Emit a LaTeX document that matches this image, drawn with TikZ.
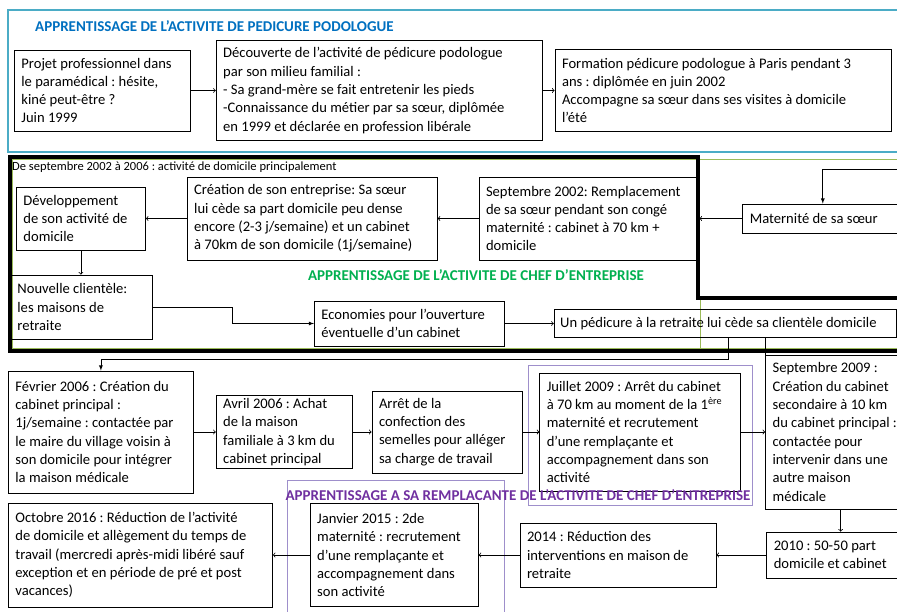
\documentclass[tikz,border=0pt]{standalone}
\usepackage{fontspec}
\setmainfont{Carlito}
\frenchspacing
\usetikzlibrary{arrows,positioning}
\definecolor{titleblue}{HTML}{0070C0}
\definecolor{titlegreen}{HTML}{00B050}
\definecolor{titlepurple}{HTML}{7030A0}
\definecolor{framepurple}{HTML}{9E8FCB}
\definecolor{frameblue}{HTML}{4BACC6}
\definecolor{frameolive}{HTML}{9BBB59}

\begin{document}
\begin{tikzpicture}[x=1pt,y=-1pt,node distance=25pt,
    box/.style={draw,line width=0.8pt,align=flush left,inner xsep=7pt,inner ysep=3pt,font=\fontsize{14.6}{18.3}\selectfont},
    phase/.style={inner sep=0pt,font=\fontsize{15}{18}\selectfont\bfseries},
    link/.style={line width=0.8pt}]
    \useasboundingbox (0,0) rectangle (897,612);
    \fill[white] (0,0) rectangle (897,612);
    \clip (0,0) rectangle (897,612);

    \draw[frameblue,line width=1.2pt] (8,10) rectangle (910,152);
    \draw[frameolive,line width=0.8pt] (12,159) rectangle (910,348);
    \draw[frameolive,line width=0.8pt] (700,300) -- (700,349);
    \draw[line width=3.5pt] (910,298) -- (698,298) -- (698,157) -- (10,157) -- (10,351) -- (910,351);
    \draw[framepurple,line width=1pt] (528,365) rectangle (752,505);
    \draw[framepurple,line width=1pt] (287,480) rectangle (504,640);

    \node[phase,text=titleblue,anchor=west] (titre-pedicure) at (35,26) {APPRENTISSAGE DE L’ACTIVITE DE PEDICURE PODOLOGUE};
    \node[box,anchor=west,text width=162pt,minimum height=81pt] (projet) at (14,90.5) {Projet professionnel dans\\le paramédical : hésite,\\kiné peut-être ?\\Juin 1999};
    \node[box,right=25pt of projet,text width=312pt,minimum height=100pt] (decouverte) {Découverte de l’activité de pédicure podologue\\par son milieu familial :\\- Sa grand-mère se fait entretenir les pieds\\-Connaissance du métier par sa sœur, diplômée\\en 1999 et déclarée en profession libérale};
    \node[box,right=12pt of decouverte,text width=322pt,minimum height=82pt] (formation) {Formation pédicure podologue à Paris pendant 3\\ans : diplômée en juin 2002\\Accompagne sa sœur dans ses visites à domicile\\l’été};

    \node[anchor=west,inner sep=0pt,font=\fontsize{12.5}{14}\selectfont] (periode) at (12,167) {De septembre 2002 à 2006 : activité de domicile principalement};
    \node[box,anchor=west,text width=115pt,minimum height=63pt] (developpement) at (16,218.5) {Développement\\de son activité de\\domicile};
    \node[box,right=41pt of developpement,text width=236pt,minimum height=83pt] (creation) {Création de son entreprise: Sa sœur\\lui cède sa part domicile peu dense\\encore (2-3 j/semaine) et un cabinet\\à 70km de son domicile (1j/semaine)};
    \node[box,right=41pt of creation,text width=206pt,minimum height=83pt] (remplacement) {Septembre 2002: Remplacement\\de sa sœur pendant son congé\\maternité : cabinet à 70 km +\\domicile};
    \node[box,right=43pt of remplacement,text width=146pt,minimum height=29pt] (maternite) {Maternité de sa sœur};
    \node[phase,text=titlegreen] (titre-chef) at (476,275) {APPRENTISSAGE DE L’ACTIVITE DE CHEF D’ENTREPRISE};
    \node[box,anchor=west,text width=128pt,minimum height=64pt] (clientele) at (10,307) {Nouvelle clientèle:\\les maisons de\\retraite};
    \node[box,anchor=west,text width=176pt,minimum height=45pt] (economies) at (314,323.5) {Economies pour l’ouverture\\éventuelle d’un cabinet};
    \node[box,right=49pt of economies,inner xsep=6pt,text width=330pt,minimum height=28pt] (retraite) {Un pédicure à la retraite lui cède sa clientèle domicile};

    \node[box,anchor=west,text width=171pt,minimum height=122pt] (fevrier) at (8,432) {Février 2006 : Création du\\cabinet principal :\\1j/semaine : contactée par\\le maire du village voisin à\\son domicile pour intégrer\\la maison médicale};
    \node[box,right=22pt of fevrier,text width=122pt,minimum height=73pt] (achat) {Avril 2006 : Achat\\de la maison\\familiale à 3 km du\\cabinet principal};
    \node[box,right=19pt of achat,text width=136pt,minimum height=82pt] (semelles) {Arrêt de la\\confection des\\semelles pour alléger\\sa charge de travail};
    \node[box,right=17pt of semelles,text width=187pt,minimum height=118pt] (juillet) {Juillet 2009 : Arrêt du cabinet\\à 70 km au moment de la 1\textsuperscript{ère}\\maternité et recrutement\\d’une remplaçante et\\accompagnement dans son\\activité};
    \node[box,right=24pt of juillet,text width=136pt,minimum height=154pt] (secondaire) {Septembre 2009 :\\Création du cabinet\\secondaire à 10 km\\du cabinet principal :\\contactée pour\\intervenir dans une\\autre maison\\médicale};
    \node[phase,text=titlepurple] (titre-remplacante) at (518,495) {APPRENTISSAGE A SA REMPLACANTE DE L’ACTIVITE DE CHEF D’ENTREPRISE};

    \node[box,anchor=west,text width=250pt,minimum height=104pt] (octobre) at (8,555) {Octobre 2016 : Réduction de l’activité\\de domicile et allègement du temps de\\travail (mercredi après-midi libéré sauf\\exception et en période de pré et post\\vacances)};
    \node[box,right=37pt of octobre,text width=154pt,minimum height=103pt] (janvier) {Janvier 2015 : 2de\\maternité : recrutement\\d’une remplaçante et\\accompagnement dans\\son activité};
    \node[box,right=41pt of janvier,text width=182pt,minimum height=64pt] (reduction) {2014 : Réduction des\\interventions en maison de\\retraite};
    \node[box,right=50pt of reduction,text width=126pt,minimum height=46pt] (partage) {2010 : 50-50 part\\domicile et cabinet};

    \coordinate (source-maternite) at (900,169);
    \draw[link,->] (projet) -- (decouverte);
    \draw[link,->] (decouverte) -- (formation);
    \draw[link,-latex] (source-maternite) -| (maternite);
    \draw[link,->] (maternite) -- (remplacement);
    \draw[link,->] (remplacement) -- (creation);
    \draw[link,->] (creation) -- (developpement);
    \draw[link,->] (developpement.south) -- (developpement.south |- clientele.north);
    \draw[link,-latex] (clientele.east) -- ++(80,0) |- (economies);
    \draw[link,->] (economies) -- (retraite);
    \draw[link,-latex] ([xshift=3pt]retraite.south) -- ++(0,21) -| (fevrier);
    \draw[link] (secondaire.north west |- retraite.south) -- (secondaire.north west);
    \draw[link,->] (fevrier) -- (achat);
    \draw[link,->] (achat) -- (semelles);
    \draw[link,->] (semelles) -- (juillet);
    \draw[link,->] (juillet) -- (secondaire);
    \draw[link,->] (secondaire.south) -- (secondaire.south |- partage.north);
    \draw[link,->] (partage) -- (reduction);
    \draw[link,->] (reduction) -- (janvier);
    \draw[link,->] (janvier) -- (octobre);
\end{tikzpicture}
\end{document}
